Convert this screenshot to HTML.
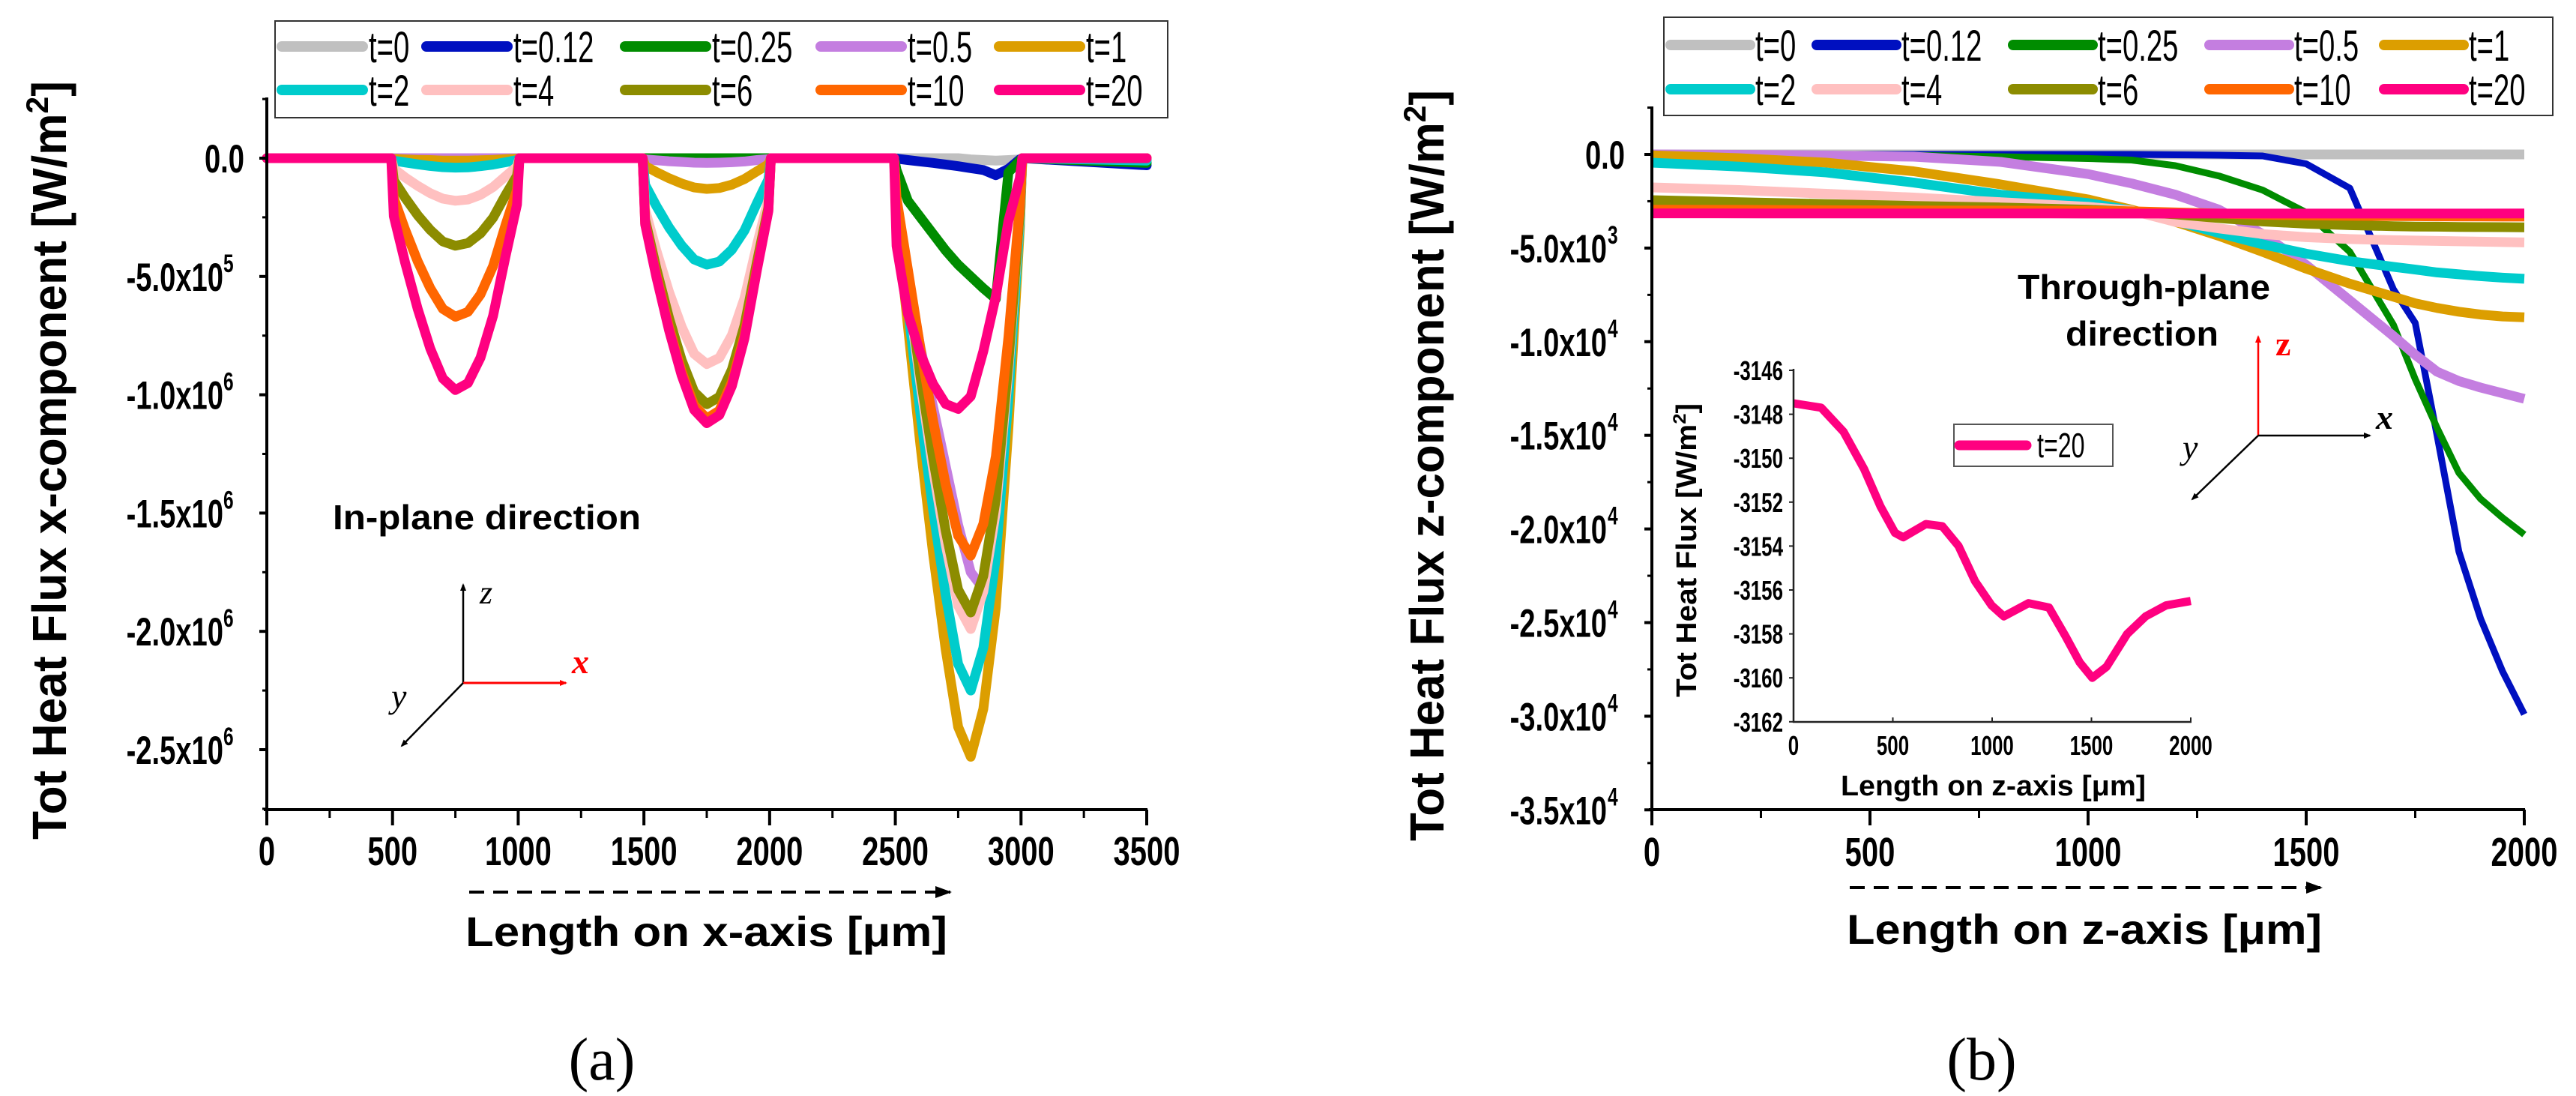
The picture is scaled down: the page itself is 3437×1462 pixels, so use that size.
<!DOCTYPE html>
<html><head><meta charset="utf-8"><title>Heat flux charts</title>
<style>
html,body{margin:0;padding:0;background:#fff;}
svg{display:block;font-family:"Liberation Sans",sans-serif;}
</style></head>
<body>
<svg id="fig" width="3437" height="1462" viewBox="0 0 3437 1462" xmlns="http://www.w3.org/2000/svg">
<defs>
<marker id="ah" markerWidth="8" markerHeight="8" refX="6" refY="4" orient="auto" markerUnits="userSpaceOnUse"><path d="M0,0 L8,4 L0,8 z" fill="#000"/></marker>
<marker id="ahr" markerWidth="10" markerHeight="10" refX="8" refY="5" orient="auto" markerUnits="userSpaceOnUse"><path d="M0,1 L10,5 L0,9 z" fill="#f00"/></marker>
<marker id="ahb" markerWidth="10" markerHeight="10" refX="8" refY="5" orient="auto" markerUnits="userSpaceOnUse"><path d="M0,1 L10,5 L0,9 z" fill="#000"/></marker>
<marker id="ahd" markerWidth="22" markerHeight="18" refX="20" refY="9" orient="auto" markerUnits="userSpaceOnUse"><path d="M0,1 L22,9 L0,17 z" fill="#000"/></marker>
</defs>
<g id="left"></g>
<g id="right"></g>
</svg>
<script>
// ---------- data: left chart (x-component), values in W/m^2 ----------
const leftX = [0,495,505,550,600,650,700,750,800,850,900,950,995,1005,1495,1505,1550,1600,1650,1700,1750,1800,1850,1900,1950,1995,2005,2495,2505,2550,2600,2650,2700,2750,2800,2850,2900,2950,2995,3005,3500];
const leftUnit = 1e5;
const lT0 = [0,0,0,0,0,0,0,0,0,0,0,0,0,0,0,0,0,0,0,0,0,0,0,0,0,0,0,0,0,0,0,0,0,0,-0.05,-0.08,-0.1,-0.08,-0.05,0,0];
const lT012 = [0,0,0,0,0,0,0,0,0,0,0,0,0,0,0,0,0,0,0,0,0,0,0,0,0,0,0,0,-0.02,-0.08,-0.14,-0.2,-0.27,-0.34,-0.42,-0.5,-0.72,-0.45,-0.05,0,-0.3];
const lT025 = [0,0,0,0,0,0,0,0,0,0,0,0,0,0,0,0,0,0,0,0,0,0,0,0,0,0,0,0,-0.5,-1.8,-2.5,-3.2,-3.9,-4.5,-5.0,-5.5,-5.95,-0.6,-0.1,0,-0.2];
const lT05 = [0,0,0,0,0,0,0,0,0,0,0,0,0,0,0,-0.05,-0.09,-0.13,-0.16,-0.19,-0.2,-0.19,-0.17,-0.14,-0.08,-0.04,0,0,-2,-5,-8,-10.5,-13,-15.5,-17.5,-18.2,-15,-9,-3,0,0];
const lT1 = [0,0,-0.03,-0.05,-0.07,-0.08,-0.1,-0.1,-0.1,-0.09,-0.07,-0.04,-0.02,0,0,-0.33,-0.59,-0.85,-1.07,-1.24,-1.3,-1.26,-1.12,-0.88,-0.55,-0.26,0,0,-2.53,-7.08,-12.14,-16.7,-20.75,-24.04,-25.3,-23.28,-18.98,-11.39,-3.04,0,0];
const lT2 = [0,0,-0.1,-0.18,-0.26,-0.33,-0.38,-0.4,-0.39,-0.34,-0.27,-0.17,-0.08,0,0,-1.13,-2.03,-2.93,-3.69,-4.28,-4.5,-4.37,-3.87,-3.06,-1.89,-0.9,0,0,-2.25,-6.3,-10.8,-14.85,-18.45,-21.38,-22.5,-20.7,-16.88,-10.13,-2.7,0,-0.1];
const lT4 = [0,0,-0.45,-0.81,-1.17,-1.48,-1.71,-1.8,-1.75,-1.55,-1.22,-0.76,-0.36,0,0,-2.18,-3.92,-5.66,-7.13,-8.27,-8.7,-8.44,-7.48,-5.92,-3.65,-1.74,0,0,-1.99,-5.57,-9.55,-13.13,-16.32,-18.91,-19.9,-18.31,-14.93,-8.96,-2.39,0,0];
const lT6 = [0,0,-0.93,-1.67,-2.41,-3.03,-3.52,-3.7,-3.59,-3.18,-2.52,-1.55,-0.74,0,0,-2.6,-4.68,-6.76,-8.53,-9.88,-10.4,-10.09,-8.94,-7.07,-4.37,-2.08,0,0,-1.92,-5.38,-9.22,-12.67,-15.74,-18.24,-19.2,-17.66,-14.4,-8.64,-2.3,0,0];
const lT10 = [0,0,-1.68,-3.02,-4.36,-5.49,-6.37,-6.7,-6.5,-5.76,-4.56,-2.81,-1.34,0,0,-2.75,-4.95,-7.15,-9.02,-10.45,-11,-10.67,-9.46,-7.48,-4.62,-2.2,0,0,-1.68,-4.7,-8.06,-11.09,-13.78,-15.96,-16.8,-15.46,-12.6,-7.56,-2.02,0,0];
const lT20 = [0,0,-2.45,-4.41,-6.37,-8.04,-9.31,-9.8,-9.51,-8.43,-6.66,-4.12,-1.96,0,0,-2.8,-5.04,-7.28,-9.18,-10.64,-11.2,-10.86,-9.63,-7.62,-4.7,-2.24,0,0,-3.71,-6.57,-8.27,-9.54,-10.39,-10.6,-10.07,-8.16,-5.83,-2.65,-0.85,0,0];
const leftXTicks = [0,500,1000,1500,2000,2500,3000,3500];
const leftYTicks = [0,-5e5,-1e6,-1.5e6,-2e6,-2.5e6];
const leftYMant = ["0.0","-5.0x10","-1.0x10","-1.5x10","-2.0x10","-2.5x10"];
const leftYExp = ["","5","6","6","6","6"];

// ---------- data: right chart (z-component) ----------
const rightZ = [0,200,400,600,800,1000,1100,1200,1300,1400,1500,1600,1700,1750,1800,1850,1900,1950,2000];
const rT0 = [0,0,0,0,0,0,0,0,0,0,0,0,0,0,0,0,0,0,0];
const rT012 = [0,0,0,0,0,0,0,-20,-40,-80,-500,-1800,-7200,-9000,-15000,-21200,-24800,-27600,-29900];
const rT025 = [0,0,0,-50,-120,-220,-300,-600,-1150,-1900,-3100,-5200,-9100,-12000,-14600,-17000,-18400,-19400,-20300];
const rT05 = [0,-20,-60,-120,-400,-1050,-1550,-2150,-2950,-4250,-5900,-7800,-9700,-10700,-11600,-12100,-12450,-12750,-13050];
const rT1 = [-50,-200,-440,-900,-1600,-2400,-2950,-3600,-4350,-5200,-6100,-6900,-7600,-7950,-8200,-8400,-8550,-8650,-8700];
const rT2 = [-440,-650,-960,-1500,-2150,-2600,-3000,-3550,-4200,-4800,-5300,-5700,-6000,-6150,-6300,-6400,-6500,-6580,-6640];
const rT4 = [-1760,-1900,-2100,-2300,-2550,-2800,-3000,-3600,-3950,-4250,-4420,-4520,-4580,-4600,-4620,-4640,-4660,-4680,-4700];
const rT6 = [-2440,-2550,-2650,-2750,-2830,-2950,-3050,-3200,-3400,-3580,-3700,-3780,-3830,-3850,-3860,-3870,-3880,-3885,-3890];
const rT10 = [-2950,-2960,-2980,-2990,-3000,-3010,-3040,-3100,-3160,-3220,-3250,-3280,-3290,-3300,-3305,-3310,-3315,-3318,-3320];
const insetZ = [0,139,252,356,438,511,552,666,749,831,914,997,1059,1183,1286,1369,1441,1504,1576,1680,1773,1876,2000];
const insetT20 = [-3147.5,-3147.7,-3148.8,-3150.5,-3152.2,-3153.4,-3153.6,-3153.0,-3153.1,-3154.0,-3155.6,-3156.7,-3157.2,-3156.6,-3156.8,-3158.1,-3159.3,-3160.0,-3159.5,-3158.0,-3157.2,-3156.7,-3156.5];
const rightXTicks = [0,500,1000,1500,2000];
const rightYTicks = [0,-5e3,-1e4,-1.5e4,-2e4,-2.5e4,-3e4,-3.5e4];
const rightYMant = ["0.0","-5.0x10","-1.0x10","-1.5x10","-2.0x10","-2.5x10","-3.0x10","-3.5x10"];
const rightYExp = ["","3","4","4","4","4","4","4"];
const insetXTicks = [0,500,1000,1500,2000];
const insetYTicks = [-3146,-3148,-3150,-3152,-3154,-3156,-3158,-3160,-3162];

const seriesLabels = ["t=0","t=0.12","t=0.25","t=0.5","t=1","t=2","t=4","t=6","t=10","t=20"];
const seriesKeys = ["t0","t012","t025","t05","t1","t2","t4","t6","t10","t20"];
const colors = ["#c0c0c0","#0010c0","#008c00","#c47ee0","#dc9e00","#00cccc","#ffc0c0","#8c8c00","#ff6600","#ff0080"];
const leftSeries = [lT0,lT012,lT025,lT05,lT1,lT2,lT4,lT6,lT10,lT20];
const rightSeries = [rT0,rT012,rT025,rT05,rT1,rT2,rT4,rT6,rT10];

// ---------- scales ----------
const lx = v => 356 + v*(1530-356)/3500;
const ly = v => 211 - v*157.8/5e5;
const rx = v => 2204 + v*(3368-2204)/2000;
const ry = v => 206 - v*124.9/5000;
const ix = v => 2393 + v*(2923-2393)/2000;
const iy = v => 494 + (-3146 - v)*29.3;

const NS = "http://www.w3.org/2000/svg";
function mk(parent, tag, attrs){ const e=document.createElementNS(NS,tag); for(const k in attrs) e.setAttribute(k,attrs[k]); parent.appendChild(e); return e; }
function ctext(parent, x, y, s, size, anchor, sx, weight, fill){
  const t = mk(parent,"text",{transform:`translate(${x},${y}) scale(${sx},1)`,"font-size":size,"text-anchor":anchor,"font-weight":weight||"bold",fill:fill||"#000"});
  t.textContent = s; return t;
}
const L = document.getElementById("left");
const R = document.getElementById("right");

// ================= LEFT CHART =================
{
  for(let s=0;s<leftSeries.length;s++){
    const pts = leftX.map((x,i)=>`${lx(x).toFixed(1)},${ly(leftSeries[s][i]*leftUnit).toFixed(1)}`).join(" ");
    const p = mk(L,"polyline",{points:pts,fill:"none",stroke:colors[s],"stroke-width":13,"stroke-linejoin":"round","stroke-linecap":"round"});
    
    
  }
  const ya = mk(L,"line",{x1:356,y1:130,x2:356,y2:1082,stroke:"#000","stroke-width":4});
  
  
  const xa = mk(L,"line",{x1:352,y1:1080,x2:1531,y2:1080,stroke:"#000","stroke-width":4});
  
  
  for(let i=0;i<leftXTicks.length;i++){
    const v = leftXTicks[i];
    const tk = mk(L,"line",{x1:lx(v),y1:1080,x2:lx(v),y2:1101,stroke:"#000","stroke-width":4});
    
    
    if(i<leftXTicks.length-1){ const m=mk(L,"line",{x1:lx(v+250),y1:1080,x2:lx(v+250),y2:1091,stroke:"#000","stroke-width":3});   }
    const lb = ctext(L, lx(v), 1154, String(v), 54, "middle", 0.74);
    
    
  }
  for(let i=0;i<leftYTicks.length;i++){
    const v = leftYTicks[i];
    const tk = mk(L,"line",{x1:346,y1:ly(v),x2:356,y2:ly(v),stroke:"#000","stroke-width":4});
    
    
    const mv = v + 2.5e5;
    const m = mk(L,"line",{x1:350,y1:ly(mv),x2:356,y2:ly(mv),stroke:"#000","stroke-width":3});
    
    
    const exp = leftYExp[i];
    const lb = ctext(L, exp? 298 : 326, ly(v)+19, leftYMant[i], 53, "end", 0.72);
    
    
    if(exp){ const e = ctext(L, 298, ly(v)-6, exp, 34, "start", 0.72);   }
  }
  mk(L,"line",{x1:350,y1:ly(-2.75e6),x2:356,y2:ly(-2.75e6),stroke:"#000","stroke-width":3});
  const yt = mk(L,"text",{transform:"translate(88,614) rotate(-90)","font-size":64,"font-weight":"bold","text-anchor":"middle",textLength:1012,lengthAdjust:"spacingAndGlyphs"});
  yt.innerHTML = 'Tot Heat Flux x-component [W/m<tspan dy="-24" font-size="42">2</tspan><tspan dy="24">]</tspan>';
  
  
  const xt = mk(L,"text",{x:621,y:1262,"font-size":56,"font-weight":"bold",textLength:643,lengthAdjust:"spacingAndGlyphs"});
  xt.textContent = "Length on x-axis [\u03bcm]";
  
  
  const da = mk(L,"line",{x1:626,y1:1190,x2:1268,y2:1190,stroke:"#000","stroke-width":4,"stroke-dasharray":"20 12","marker-end":"url(#ahd)"});
  
  
  const cap = mk(L,"text",{x:803,y:1440,"font-size":80,"text-anchor":"middle","font-family":"Liberation Serif, serif"});
  cap.textContent = "(a)";
  
  
  const ann = mk(L,"text",{x:444,y:706,"font-size":46,"font-weight":"bold",textLength:411,lengthAdjust:"spacingAndGlyphs"});
  ann.textContent = "In-plane direction";
  
  
  const tri = mk(L,"g",{});
  
  
  mk(tri,"line",{x1:618,y1:911,x2:618,y2:780,stroke:"#000","stroke-width":2.5,"marker-end":"url(#ahb)"});
  mk(tri,"line",{x1:618,y1:911,x2:755,y2:911,stroke:"#f00","stroke-width":3,"marker-end":"url(#ahr)"});
  mk(tri,"line",{x1:618,y1:911,x2:536,y2:995,stroke:"#000","stroke-width":2.5,"marker-end":"url(#ahb)"});
  const tz=mk(tri,"text",{x:640,y:805,"font-size":44,"font-style":"italic","font-family":"Liberation Serif, serif"}); tz.textContent="z";
  const tx=mk(tri,"text",{x:763,y:898,"font-size":46,"font-style":"italic","font-weight":"bold",fill:"#f00","font-family":"Liberation Serif, serif"}); tx.textContent="x";
  const ty=mk(tri,"text",{x:522,y:944,"font-size":46,"font-style":"italic","font-family":"Liberation Serif, serif"}); ty.textContent="y";
  const lg = mk(L,"g",{});
  
  
  mk(lg,"rect",{x:367,y:28,width:1191,height:129,fill:"#fff",stroke:"#333","stroke-width":2});
  const colsA = [370,563,828,1089,1327];
  for(let s=0;s<seriesLabels.length;s++){
    const cx = colsA[s%5], cy = s<5 ? 62 : 120;
    const e = mk(lg,"g",{});
    
    
    mk(e,"line",{x1:cx+6,y1:cy,x2:cx+114,y2:cy,stroke:colors[s],"stroke-width":14,"stroke-linecap":"round"});
    ctext(e, cx+122, cy+21, seriesLabels[s], 58, "start", 0.66, "normal");
  }
}

// ================= RIGHT CHART =================
{
  const all = rightSeries.concat([null]);
  for(let s=0;s<all.length;s++){
    let pts;
    if(s<rightSeries.length) pts = rightZ.map((z,i)=>`${rx(z).toFixed(1)},${ry(rightSeries[s][i]).toFixed(1)}`).join(" ");
    else pts = insetZ.map((z,i)=>`${rx(z).toFixed(1)},${ry(insetT20[i]).toFixed(1)}`).join(" ");
    const w = (s===1||s===2) ? 9 : 13;
    const p = mk(R,"polyline",{points:pts,fill:"none",stroke:colors[s],"stroke-width":w,"stroke-linejoin":"round"});
    
    
  }
  const ya = mk(R,"line",{x1:2204,y1:142,x2:2204,y2:1082,stroke:"#000","stroke-width":4});
  
  
  const xa = mk(R,"line",{x1:2200,y1:1080,x2:3369,y2:1080,stroke:"#000","stroke-width":4});
  
  
  for(let i=0;i<rightXTicks.length;i++){
    const v = rightXTicks[i];
    const tk = mk(R,"line",{x1:rx(v),y1:1080,x2:rx(v),y2:1101,stroke:"#000","stroke-width":4});
    
    
    if(i<rightXTicks.length-1){ const m=mk(R,"line",{x1:rx(v+250),y1:1080,x2:rx(v+250),y2:1091,stroke:"#000","stroke-width":3});   }
    const lb = ctext(R, rx(v), 1155, String(v), 54, "middle", 0.74);
    
    
  }
  for(let i=0;i<rightYTicks.length;i++){
    const v = rightYTicks[i];
    const tk = mk(R,"line",{x1:2194,y1:ry(v),x2:2204,y2:ry(v),stroke:"#000","stroke-width":4});
    
    
    const m = mk(R,"line",{x1:2198,y1:ry(v+2500),x2:2204,y2:ry(v+2500),stroke:"#000","stroke-width":3});
    
    
    const exp = rightYExp[i];
    const lb = ctext(R, exp? 2144 : 2168, ry(v)+19, rightYMant[i], 53, "end", 0.72);
    
    
    if(exp){ const e = ctext(R, 2145, ry(v)-6, exp, 34, "start", 0.72);   }
  }
  const yt = mk(R,"text",{transform:"translate(1926,621) rotate(-90)","font-size":64,"font-weight":"bold","text-anchor":"middle",textLength:1002,lengthAdjust:"spacingAndGlyphs"});
  yt.innerHTML = 'Tot Heat Flux z-component [W/m<tspan dy="-24" font-size="42">2</tspan><tspan dy="24">]</tspan>';
  
  
  const xt = mk(R,"text",{x:2464,y:1259,"font-size":56,"font-weight":"bold",textLength:634,lengthAdjust:"spacingAndGlyphs"});
  xt.textContent = "Length on z-axis [\u03bcm]";
  
  
  const da = mk(R,"line",{x1:2468,y1:1184,x2:3097,y2:1184,stroke:"#000","stroke-width":4,"stroke-dasharray":"20 12","marker-end":"url(#ahd)"});
  
  
  const cap = mk(R,"text",{x:2644,y:1440,"font-size":80,"text-anchor":"middle","font-family":"Liberation Serif, serif"});
  cap.textContent = "(b)";
  
  
  const a1 = mk(R,"text",{x:2692,y:399,"font-size":46,"font-weight":"bold",textLength:337,lengthAdjust:"spacingAndGlyphs"});
  a1.textContent = "Through-plane";
  
  
  const a2 = mk(R,"text",{x:2756,y:461,"font-size":46,"font-weight":"bold",textLength:204,lengthAdjust:"spacingAndGlyphs"});
  a2.textContent = "direction";
  
  
  const tri = mk(R,"g",{});
  
  
  mk(tri,"line",{x1:3013,y1:581,x2:3013,y2:449,stroke:"#f00","stroke-width":2.5,"marker-end":"url(#ahr)"});
  mk(tri,"line",{x1:3013,y1:581,x2:3162,y2:581,stroke:"#000","stroke-width":2.5,"marker-end":"url(#ahb)"});
  mk(tri,"line",{x1:3013,y1:581,x2:2925,y2:666,stroke:"#000","stroke-width":2.5,"marker-end":"url(#ahb)"});
  const tz=mk(tri,"text",{x:3036,y:474,"font-size":46,"font-weight":"bold",fill:"#f00","font-family":"Liberation Serif, serif"}); tz.textContent="z";
  const tx=mk(tri,"text",{x:3170,y:572,"font-size":46,"font-style":"italic","font-weight":"bold","font-family":"Liberation Serif, serif"}); tx.textContent="x";
  const ty=mk(tri,"text",{x:2912,y:612,"font-size":46,"font-style":"italic","font-family":"Liberation Serif, serif"}); ty.textContent="y";
  const ins = mk(R,"g",{});
  
  
  const ip = mk(ins,"polyline",{points:insetZ.map((z,i)=>`${ix(z).toFixed(1)},${iy(insetT20[i]).toFixed(1)}`).join(" "),fill:"none",stroke:colors[9],"stroke-width":11,"stroke-linejoin":"round"});
  
  
  const iya = mk(ins,"line",{x1:2393,y1:492,x2:2393,y2:964,stroke:"#222","stroke-width":2.5});
  
  
  const ixa = mk(ins,"line",{x1:2392,y1:963,x2:2924,y2:963,stroke:"#222","stroke-width":2.5});
  
  
  for(let i=0;i<insetYTicks.length;i++){
    const v = insetYTicks[i];
    const tk = mk(ins,"line",{x1:2387,y1:iy(v),x2:2393,y2:iy(v),stroke:"#222","stroke-width":2});
    
    
    const lb = ctext(ins, 2379, iy(v)+13, String(v), 36, "end", 0.72);
    
    
  }
  for(let i=0;i<insetXTicks.length;i++){
    const v = insetXTicks[i];
    const tk = mk(ins,"line",{x1:ix(v),y1:963,x2:ix(v),y2:957,stroke:"#222","stroke-width":2});
    
    
    const lb = ctext(ins, ix(v), 1007, String(v), 36, "middle", 0.72);
    
    
  }
  const iyt = mk(ins,"text",{transform:"translate(2263,734) rotate(-90)","font-size":38,"font-weight":"bold","text-anchor":"middle",textLength:392,lengthAdjust:"spacingAndGlyphs"});
  iyt.innerHTML = 'Tot Heat Flux  [W/m<tspan dy="-14" font-size="24">2</tspan><tspan dy="14">]</tspan>';
  
  
  const ixt = mk(ins,"text",{x:2456,y:1061,"font-size":38,"font-weight":"bold",textLength:407,lengthAdjust:"spacingAndGlyphs"});
  ixt.textContent = "Length on z-axis [\u03bcm]";
  
  
  const il = mk(ins,"g",{});
  
  
  mk(il,"rect",{x:2607,y:566,width:212,height:56,fill:"#fff",stroke:"#555","stroke-width":2});
  mk(il,"line",{x1:2614,y1:594,x2:2704,y2:594,stroke:colors[9],"stroke-width":13,"stroke-linecap":"round"});
  ctext(il, 2718, 610, "t=20", 46, "start", 0.7, "normal");
  const lg = mk(R,"g",{});
  
  
  mk(lg,"rect",{x:2220,y:23,width:1186,height:131,fill:"#fff",stroke:"#333","stroke-width":2});
  const colsB = [2223,2418,2680,2942,3175];
  for(let s=0;s<seriesLabels.length;s++){
    const cx = colsB[s%5], cy = s<5 ? 60 : 119;
    const e = mk(lg,"g",{});
    
    
    mk(e,"line",{x1:cx+6,y1:cy,x2:cx+112,y2:cy,stroke:colors[s],"stroke-width":14,"stroke-linecap":"round"});
    ctext(e, cx+119, cy+21, seriesLabels[s], 58, "start", 0.66, "normal");
  }
}
</script>
</body></html>
